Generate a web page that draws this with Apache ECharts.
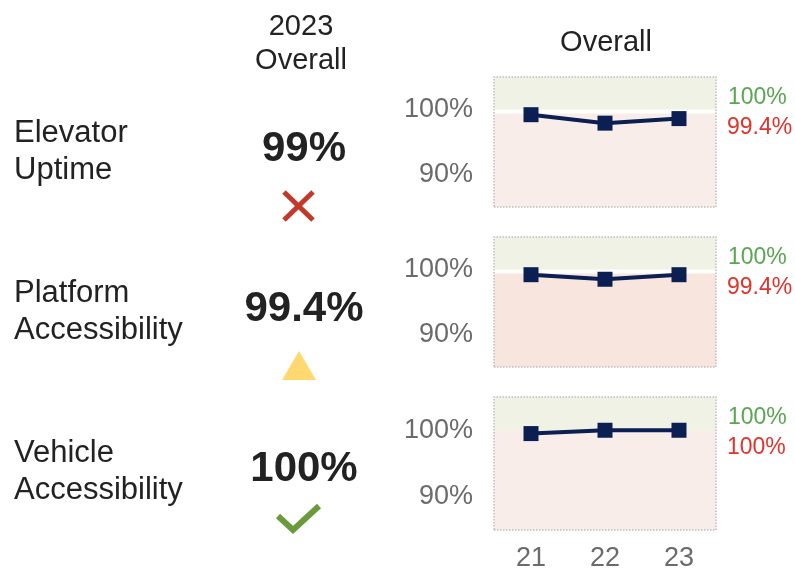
<!DOCTYPE html>
<html>
<head>
<meta charset="utf-8">
<script src="https://cdn.jsdelivr.net/npm/echarts@6/dist/echarts.min.js"></script>
<style>
  html, body { margin: 0; padding: 0; background: #fff; }
  #main { width: 795px; height: 569px; }
</style>
</head>
<body>
<div id="main"></div>
<script>
var years = ["21", "22", "23"];
var metrics = ["Elevator\nUptime", "Platform\nAccessibility", "Vehicle\nAccessibility"];
var overall2023 = ["99%", "99.4%", "100%"];
var statusIcons = ["cross", "triangle", "check"];
var elevatorValues = [99.2, 97.9, 98.6];
var platformValues = [99.2, 98.5, 99.2];
var vehicleValues = [99.5, 100, 100];
var targets = [100, 100, 100];
var thresholds = [99.4, 99.4, 100];
var yMin = 85, yMax = 105;

(function () {
    var myChart = echarts.init(document.getElementById("main"));
    var font = "'Liberation Sans', Arial, sans-serif";
    var seriesValues = [elevatorValues, platformValues, vehicleValues];
    var gridTops = [77, 237, 397];
    var gridHs = [130, 130, 133];
    var pinks = ["#f8ede8", "#f8e6de", "#f8ede8"];

    var grids = [], xAxes = [], yAxes = [], series = [], graphics = [];

    for (var i = 0; i < 3; i++) {
        var top = gridTops[i];
        grids.push({ left: 494, width: 222, top: top, height: gridHs[i], outerBoundsMode: "none", containLabel: false });
        xAxes.push({
            type: "category",
            gridIndex: i,
            data: years,
            boundaryGap: true,
            axisLine: { show: false },
            axisTick: { show: false },
            axisLabel: {
                show: i === 2,
                color: "#6b6b6b",
                fontSize: 27,
                fontFamily: font,
                margin: 15
            }
        });
        yAxes.push({
            type: "value",
            gridIndex: i,
            min: yMin,
            max: yMax,
            interval: 5,
            splitLine: { show: false },
            axisLine: { show: false },
            axisTick: { show: false },
            axisLabel: {
                color: "#6b6b6b",
                fontSize: 27,
                fontFamily: font,
                margin: 21,
                formatter: function (v) {
                    return (v === 90 || v === 100) ? v + "%" : "";
                }
            }
        });
        series.push({
            type: "line",
            xAxisIndex: i,
            yAxisIndex: i,
            data: seriesValues[i],
            symbol: "rect",
            symbolSize: 15,
            clip: false,
            lineStyle: { color: "#0b1f52", width: 4 },
            itemStyle: { color: "#0b1f52" },
            z: 5,
            markArea: {
                silent: true,
                data: [
                    [{ yAxis: targets[i], itemStyle: { color: "#eff2e4" } }, { yAxis: yMax }],
                    [{ yAxis: yMin, itemStyle: { color: pinks[i] } }, { yAxis: thresholds[i] }],
                    [{
                        yAxis: yMin,
                        itemStyle: { color: "rgba(0,0,0,0)", borderColor: "#bdbdbd", borderWidth: 1.5, borderType: "dotted" }
                    }, { yAxis: yMax }]
                ]
            }
        });

        // target / threshold labels on the right
        graphics.push({
            type: "text", left: 728, top: top + 9,
            style: { text: targets[i] + "%", fill: "#5aa550", font: "23px " + font }
        });
        graphics.push({
            type: "text", left: 727, top: top + 39,
            style: { text: thresholds[i] + "%", fill: "#e0332b", font: "23px " + font }
        });

        // metric name
        graphics.push({
            type: "text", left: 14, top: top + 38,
            style: { text: metrics[i], fill: "#222", font: "31px " + font, lineHeight: 37 }
        });

        // overall 2023 value
        graphics.push({
            type: "text", x: 304, y: top + 72,
            style: {
                text: overall2023[i], fill: "#222", font: "bold 42px " + font,
                align: "center", verticalAlign: "middle"
            }
        });

        var cy = top + 129;
        if (statusIcons[i] === "cross") {
            graphics.push({ type: "line", shape: { x1: 284, y1: cy - 14, x2: 313, y2: cy + 14 }, style: { stroke: "#c2392c", lineWidth: 5 } });
            graphics.push({ type: "line", shape: { x1: 313, y1: cy - 14, x2: 284, y2: cy + 14 }, style: { stroke: "#c2392c", lineWidth: 5 } });
        } else if (statusIcons[i] === "triangle") {
            graphics.push({ type: "polygon", shape: { points: [[299, cy - 15], [316, cy + 14], [282, cy + 14]] }, style: { fill: "#ffd970" } });
        } else {
            graphics.push({ type: "polyline", shape: { points: [[278, cy - 10], [293, cy + 4], [319, cy - 20]] }, style: { stroke: "#6b9a3c", lineWidth: 6, fill: null } });
        }
    }

    // column headers
    graphics.push({
        type: "text", x: 301, y: 44,
        style: { text: "2023\nOverall", fill: "#222", font: "29px " + font, align: "center", verticalAlign: "middle", lineHeight: 34 }
    });
    graphics.push({
        type: "text", x: 606, y: 43,
        style: { text: "Overall", fill: "#222", font: "29px " + font, align: "center", verticalAlign: "middle" }
    });

    var option = {
        backgroundColor: "#fff",
        animation: false,
        grid: grids,
        xAxis: xAxes,
        yAxis: yAxes,
        series: series,
        graphic: graphics
    };

    myChart.setOption(option);
    window.addEventListener("resize", function () {
        myChart.resize();
    });
})();
</script>
</body>
</html>
